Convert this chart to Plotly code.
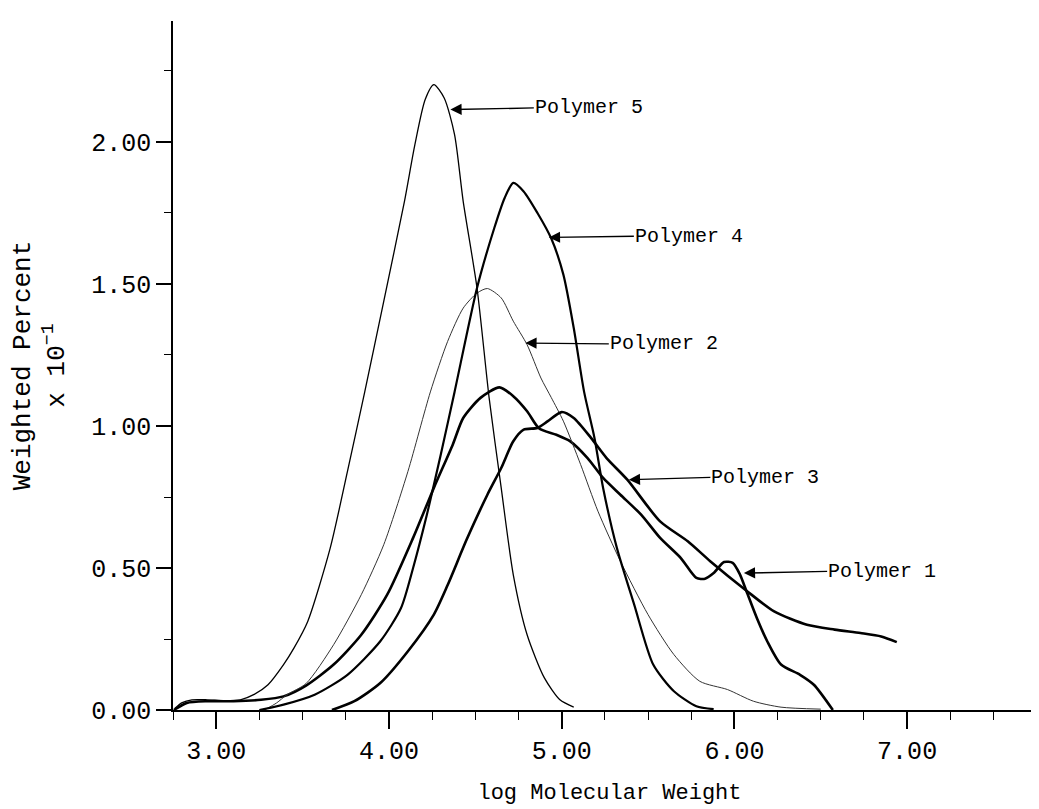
import plotly.graph_objects as go

# ---- data ----
p5_x = [2.76, 2.80, 2.86, 2.95, 3.05, 3.14, 3.22, 3.30, 3.39, 3.45, 3.53, 3.66, 3.76, 3.86, 3.97,
        4.09, 4.15, 4.21, 4.26, 4.32, 4.38, 4.43, 4.51, 4.58, 4.65, 4.72, 4.80, 4.90, 4.99, 5.07]
p5_y = [0.005, 0.025, 0.036, 0.036, 0.033, 0.036, 0.055, 0.089, 0.16, 0.218, 0.312, 0.570, 0.840, 1.12, 1.439,
        1.791, 1.99, 2.15, 2.202, 2.155, 2.026, 1.791, 1.486, 1.10, 0.782, 0.476, 0.265, 0.113, 0.036, 0.01]

p1_x = [2.755, 2.83, 2.95, 3.10, 3.26, 3.39, 3.52, 3.68, 3.84, 3.99, 4.14, 4.26, 4.37, 4.43, 4.53,
        4.64, 4.72, 4.80, 4.87, 4.97, 5.05, 5.15, 5.24, 5.34, 5.46, 5.57, 5.69, 5.78, 5.83, 5.88,
        5.94, 5.99, 6.03, 6.07, 6.13, 6.19, 6.27, 6.38, 6.46, 6.57]
p1_y = [0.0, 0.025, 0.031, 0.031, 0.036, 0.048, 0.086, 0.160, 0.265, 0.406, 0.606, 0.782, 0.935, 1.028, 1.099,
        1.136, 1.105, 1.052, 0.991, 0.969, 0.946, 0.887, 0.817, 0.758, 0.688, 0.606, 0.535, 0.465, 0.462, 0.482,
        0.521, 0.518, 0.48, 0.418, 0.324, 0.242, 0.160, 0.124, 0.089, 0.0]

p3_x = [3.67, 3.80, 3.95, 4.11, 4.26, 4.34, 4.45, 4.57, 4.65, 4.72, 4.78, 4.86, 4.92, 5.00, 5.07,
        5.17, 5.26, 5.38, 5.57, 5.73, 5.86, 6.07, 6.23, 6.42, 6.58, 6.73, 6.85, 6.94]
p3_y = [0.0, 0.031, 0.095, 0.207, 0.336, 0.44, 0.600, 0.758, 0.852, 0.946, 0.987, 0.993, 1.017, 1.049, 1.028,
        0.958, 0.887, 0.811, 0.664, 0.594, 0.524, 0.42, 0.347, 0.30, 0.283, 0.271, 0.259, 0.239]

p4_x = [3.25, 3.39, 3.57, 3.76, 3.95, 4.07, 4.14, 4.22, 4.30, 4.38, 4.51, 4.61, 4.67, 4.72, 4.78,
        4.86, 4.94, 5.01, 5.07, 5.13, 5.19, 5.24, 5.32, 5.42, 5.53, 5.65, 5.78, 5.88]
p4_y = [0.0, 0.019, 0.054, 0.124, 0.242, 0.359, 0.5, 0.688, 0.899, 1.12, 1.486, 1.697, 1.803, 1.856, 1.826,
        1.750, 1.660, 1.533, 1.345, 1.12, 0.958, 0.782, 0.570, 0.371, 0.160, 0.066, 0.013, 0.003]

p2_x = [3.28, 3.35, 3.41, 3.52, 3.68, 3.84, 3.97, 4.11, 4.24, 4.34, 4.43, 4.51, 4.57, 4.65, 4.72,
        4.80, 4.88, 4.94, 5.01, 5.11, 5.21, 5.34, 5.50, 5.65, 5.80, 5.96, 6.11, 6.27, 6.50]
p2_y = [0.0, 0.025, 0.054, 0.093, 0.23, 0.406, 0.582, 0.840, 1.12, 1.298, 1.415, 1.468, 1.484, 1.451, 1.369,
        1.286, 1.169, 1.10, 1.017, 0.864, 0.70, 0.524, 0.336, 0.195, 0.101, 0.072, 0.031, 0.01, 0.003]

series_names = ["Polymer 1", "Polymer 2", "Polymer 3", "Polymer 4", "Polymer 5"]
x_tick_vals = [3.0, 4.0, 5.0, 6.0, 7.0]
y_tick_vals = [0.0, 0.5, 1.0, 1.5, 2.0]

# ---- figure ----
FONT = "Liberation Mono, DejaVu Sans Mono, monospace"
LABEL_FONT = "Liberation Mono, Courier New, monospace"
fig = go.Figure()

styles = {
    "Polymer 1": dict(width=2.6, color="black"),
    "Polymer 2": dict(width=1.0, color="#333333"),
    "Polymer 3": dict(width=2.6, color="black"),
    "Polymer 4": dict(width=2.2, color="black"),
    "Polymer 5": dict(width=1.3, color="black"),
}
data = {
    "Polymer 1": (p1_x, p1_y),
    "Polymer 2": (p2_x, p2_y),
    "Polymer 3": (p3_x, p3_y),
    "Polymer 4": (p4_x, p4_y),
    "Polymer 5": (p5_x, p5_y),
}
for name in series_names:
    xs, ys = data[name]
    fig.add_trace(go.Scatter(x=xs, y=ys, mode="lines", name=name,
                             line=dict(shape="spline", smoothing=0.7, **styles[name])))

# arrow annotations: (label, tip_x, tip_y, tail_x, tail_y)
arrows = [
    ("Polymer 5", 4.356, 2.114, 4.839, 2.120),
    ("Polymer 4", 4.926, 1.664, 5.418, 1.668),
    ("Polymer 2", 4.790, 1.292, 5.273, 1.289),
    ("Polymer 3", 5.389, 0.811, 5.861, 0.819),
    ("Polymer 1", 6.055, 0.482, 6.537, 0.488),
]
for label, tx, ty, ax, ay in arrows:
    fig.add_annotation(x=tx, y=ty, ax=ax, ay=ay, xref="x", yref="y", axref="x", ayref="y",
                       text=label, showarrow=True, arrowhead=2, arrowsize=1.6, arrowwidth=1.4,
                       arrowcolor="black", xanchor="left", yanchor="middle", borderpad=0,
                       font=dict(family=LABEL_FONT, size=20, color="black"))

fig.update_layout(
    width=1039, height=809,
    margin=dict(l=165, r=1, t=13, b=107),
    paper_bgcolor="white", plot_bgcolor="white",
    showlegend=False,
    font=dict(family=FONT, color="black", size=25),
)
fig.update_xaxes(
    range=[2.75, 7.804], showgrid=False, zeroline=False,
    showline=True, linecolor="black", linewidth=1.5,
    tickmode="array", tickvals=x_tick_vals, ticktext=[f"{v:.2f}" for v in x_tick_vals],
    ticks="outside", ticklen=17, tickwidth=1.5, tickcolor="black",
    minor=dict(dtick=0.25, tick0=2.75, ticks="outside", ticklen=8, tickwidth=1.3, tickcolor="black"),
    tickfont=dict(family=FONT, size=25),
    title=dict(text="log Molecular Weight", font=dict(family=FONT, size=22), standoff=18),
)
fig.update_yaxes(
    range=[0, 2.426], showgrid=False, zeroline=False,
    showline=True, linecolor="black", linewidth=1.5,
    tickmode="array", tickvals=y_tick_vals, ticktext=[f"{v:.2f}" for v in y_tick_vals],
    ticks="outside", ticklen=15, tickwidth=1.5, tickcolor="black",
    minor=dict(dtick=0.25, tick0=0, ticks="outside", ticklen=7, tickwidth=1.3, tickcolor="black"),
    tickfont=dict(family=FONT, size=25),
    title=dict(text="Weighted Percent<br>x 10<sup>−1</sup>", font=dict(family=FONT, size=26), standoff=20),
)

fig.write_html("out.html")
